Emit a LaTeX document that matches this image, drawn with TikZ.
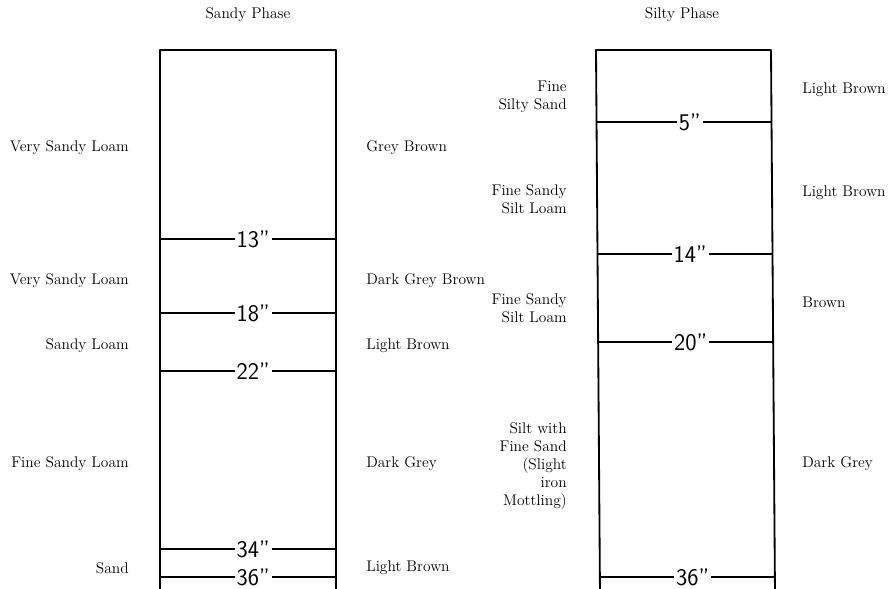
\documentclass[tikz,border=0pt]{standalone}
\usepackage{tikz}
\usetikzlibrary{positioning}

\begin{document}
\begin{tikzpicture}[
  x=0.025cm, y=-0.025cm,
  wall/.style={line width=1.3pt,line cap=round,line join=round},
  horizon/.style={line width=1.2pt},
  depth/.style={fill=white,inner sep=1.5pt,font=\fontsize{17}{17}\selectfont\sffamily},
  texture/.style={anchor=east,align=right,inner sep=0pt,font=\fontsize{11}{12.8}\selectfont},
  colour/.style={anchor=west,align=left,inner sep=0pt,font=\fontsize{11}{12.8}\selectfont},
  heading/.style={font=\fontsize{11}{12.8}\selectfont}
]
  \useasboundingbox (0,0) rectangle (889,589);

  % Headings
  \node[heading] (sandy) at (248,15) {Sandy Phase};
  \node[heading] (silty) at (682,15) {Silty Phase};

  % Sandy phase column
  \draw[wall] (160,595) -- (160,50) -- (336,50) -- (336,595);
  \draw[horizon] (160,239) -- (336,239) node[depth,pos=0.53] (s13) {13"};
  \draw[horizon] (160,313) -- (336,313) node[depth,pos=0.53] (s18) {18"};
  \draw[horizon] (160,371) -- (336,371) node[depth,pos=0.53] (s22) {22"};
  \draw[horizon] (160,549) -- (336,549) node[depth,pos=0.53] (s34) {34"};
  \draw[horizon] (160,577) -- (336,577) node[depth,pos=0.53] (s36) {36"};

  % Sandy phase textures
  \node[texture] (st1) at (129,148) {Very Sandy Loam};
  \node[texture] (st2) at (129,281) {Very Sandy Loam};
  \node[texture] (st3) at (129,346) {Sandy Loam};
  \node[texture] (st4) at (129,464) {Fine Sandy Loam};
  \node[texture] (st5) at (129,568) {Sand};

  % Sandy phase colours
  \node[colour] (sc1) at (366,148) {Grey Brown};
  \node[colour] (sc2) at (366,281) {Dark Grey Brown};
  \node[colour] (sc3) at (366,346) {Light Brown};
  \node[colour] (sc4) at (366,464) {Dark Grey};
  \node[colour] (sc5) at (366,568) {Light Brown};

  % Silty phase column
  \draw[wall] (600,595) -- (596,50) -- (771,50) -- (775,595);
  \draw[horizon] (597,122) -- (772,122) node[depth,pos=0.53] (t05) {5"};
  \draw[horizon] (598,254) -- (772,254) node[depth,pos=0.53] (t14) {14"};
  \draw[horizon] (598,342) -- (773,342) node[depth,pos=0.53] (t20) {20"};
  \draw[horizon] (600,577) -- (775,577) node[depth,pos=0.53] (t36) {36"};

  % Silty phase textures
  \node[texture] (tt1) at (567,97) {Fine\\Silty Sand};
  \node[texture] (tt2) at (567,199) {Fine Sandy\\Silt Loam};
  \node[texture] (tt3) at (567,308) {Fine Sandy\\Silt Loam};
  \node[texture] (tt4) at (567,466) {Silt with\\Fine Sand\\(Slight\\iron\\Mottling)};

  % Silty phase colours
  \node[colour] (tc1) at (802,90) {Light Brown};
  \node[colour] (tc2) at (802,193) {Light Brown};
  \node[colour] (tc3) at (802,302) {Brown};
  \node[colour] (tc4) at (802,464) {Dark Grey};
\end{tikzpicture}
\end{document}
